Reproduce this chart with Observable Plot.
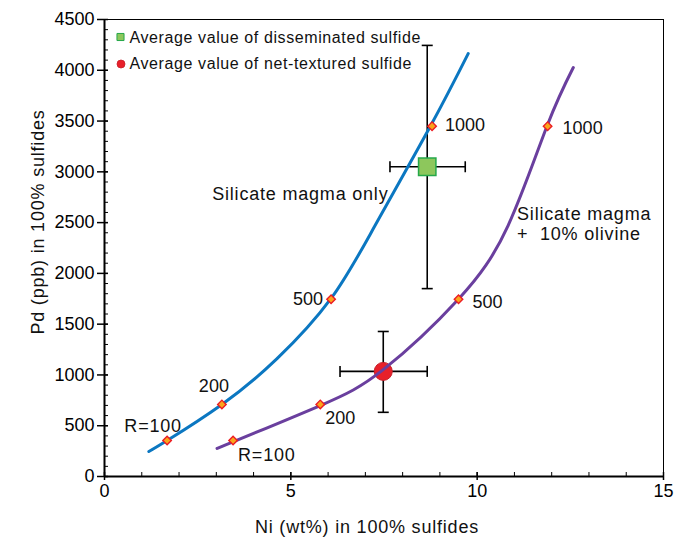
<!DOCTYPE html>
<html><head><meta charset="utf-8">
<script src="https://cdn.jsdelivr.net/npm/d3@7"></script>
<script src="https://cdn.jsdelivr.net/npm/@observablehq/plot@0.6"></script>
<style>
body{margin:0;background:#fff;}
#chart svg{display:block;}
</style>
</head><body><div id="chart"></div>
<script>
// ---- data ----
const xTicks = [0, 5, 10, 15];
const yTicks = [0, 500, 1000, 1500, 2000, 2500, 3000, 3500, 4000, 4500];
const xMinor = d3.range(0, 16, 1);
const yMinor = d3.range(0, 4501, 100);

// Silicate magma only (blue curve)
const silicateNi = [1.19, 1.68, 3.15, 4.63, 6.08, 7.26, 8.74, 9.76];
const silicatePd = [246, 354, 709, 1160, 1753, 2471, 3446, 4165];
// Silicate magma + 10% olivine (purple curve)
const olivineNi = [3.02, 5.79, 7.48, 9.49, 10.83, 11.88, 12.58];
const olivinePd = [276, 699, 1052, 1743, 2471, 3456, 4027];

// R-factor markers
const rLabels = ["R=100", "200", "500", "1000"];
const rPd = [354, 710, 1745, 3450];
const rNiSilicate = [1.68, 3.15, 6.08, 8.79];
const rNiOlivine = [3.45, 5.79, 9.50, 11.89];

// averages with error bars
const avgNames = ["Average value of disseminated sulfide", "Average value of net-textured sulfide"];
const avgNi = [8.66, 7.48];
const avgNiLo = [7.66, 6.32];
const avgNiHi = [9.68, 8.66];
const avgPd = [3050, 1035];
const avgPdLo = [1850, 632];
const avgPdHi = [4245, 1428];

// curve annotations (position read in data units)
const annotText = ["Silicate magma only", "Silicate magma\n+  10% olivine"];
const annotNi = [2.89, 11.07];
const annotPd = [2787, 2491];

const xLabel = "Ni (wt%) in 100% sulfides";
const yLabel = "Pd (ppb) in 100% sulfides";

// ---- styles ----
const FONT = "'Liberation Sans', Arial, Helvetica, sans-serif";
const BLUE = "#0b77c1", PURPLE = "#6a3f9e";
const xDomain = [0, 15], yDomain = [0, 4500];
const LS = "0.8px";

const blue = silicateNi.map((x, i) => ({x, y: silicatePd[i]}));
const purple = olivineNi.map((x, i) => ({x, y: olivinePd[i]}));
const markers = [
  ...rLabels.map((t, i) => ({x: rNiSilicate[i], y: rPd[i], t, s: "a", i})),
  ...rLabels.map((t, i) => ({x: rNiOlivine[i], y: rPd[i], t, s: "b", i}))
];
const avgs = avgNames.map((n, i) => ({n, i}));

// label offsets (pixels): [dx, dy, anchor]
const offA = [[-14, -14, "middle"], [-8, -18, "middle"], [-8, 0, "end"], [13, -1, "start"]];
const offB = [[5, 15, "start"], [5, 14, "start"], [14, 3, "start"], [15, 2, "start"]];

const capSymbol = {draw(ctx, size) { const r = Math.sqrt(size / Math.PI); ctx.moveTo(0, -r); ctx.lineTo(0, r); }};
const blank = () => "";
const plain = d3.format("d");

const labelMarks = [];
markers.forEach(m => {
  const o = (m.s === "a" ? offA : offB)[m.i];
  labelMarks.push(Plot.text([m], {x: "x", y: "y", text: "t", dx: o[0], dy: o[1], textAnchor: o[2], fontSize: 18, fill: "#111"}));
});

const chart = Plot.plot({
  width: 676, height: 538,
  marginLeft: 104, marginRight: 13, marginTop: 19, marginBottom: 62,
  style: {fontFamily: FONT, fontSize: "18px", color: "#000", background: "#fff", overflow: "visible"},
  x: {domain: xDomain},
  y: {domain: yDomain},
  marks: [
    Plot.frame({stroke: "#000", strokeWidth: 1}),
    // axes
    Plot.axisX({ticks: xTicks, tickSize: 0, tickPadding: 8, fontSize: 18, label: null, tickFormat: plain}),
    Plot.axisX({ticks: xTicks, tickSize: 8, dy: -4, tickFormat: blank, label: null, strokeWidth: 1.5}),
    Plot.axisX({ticks: xMinor, tickSize: 4, dy: -4, tickFormat: blank, label: null}),
    Plot.axisY({ticks: yTicks, tickSize: 0, tickPadding: 10, fontSize: 18, label: null, tickFormat: plain}),
    Plot.axisY({ticks: yTicks, tickSize: 11, dx: 4, tickFormat: blank, label: null, strokeWidth: 1.5}),
    Plot.axisY({ticks: yMinor, tickSize: 4, dx: 4, tickFormat: blank, label: null}),
    Plot.ruleX([xDomain[0]], {stroke: "#000", strokeWidth: 2}),
    Plot.ruleY([yDomain[0]], {stroke: "#000", strokeWidth: 2}),
    Plot.text([xLabel], {frameAnchor: "bottom", textAnchor: "middle", lineAnchor: "middle", dy: 51, dx: -17, fontSize: 18, fill: "#111"}),
    Plot.text([yLabel], {frameAnchor: "left", textAnchor: "middle", rotate: -90, dx: -66, dy: -26, fontSize: 18, fill: "#111"}),
    // error bars
    Plot.link(avgs, {x1: d => avgNiLo[d.i], x2: d => avgNiHi[d.i], y1: d => avgPd[d.i], y2: d => avgPd[d.i], stroke: "#000", strokeWidth: 1.6}),
    Plot.link(avgs, {x1: d => avgNi[d.i], x2: d => avgNi[d.i], y1: d => avgPdLo[d.i], y2: d => avgPdHi[d.i], stroke: "#000", strokeWidth: 1.6}),
    Plot.dot(avgs, {x: d => avgNiLo[d.i], y: d => avgPd[d.i], symbol: capSymbol, r: 5.5, stroke: "#000", strokeWidth: 1.6, fill: "none"}),
    Plot.dot(avgs, {x: d => avgNiHi[d.i], y: d => avgPd[d.i], symbol: capSymbol, r: 5.5, stroke: "#000", strokeWidth: 1.6, fill: "none"}),
    Plot.dot(avgs, {x: d => avgNi[d.i], y: d => avgPdLo[d.i], symbol: capSymbol, rotate: 90, r: 5.5, stroke: "#000", strokeWidth: 1.6, fill: "none"}),
    Plot.dot(avgs, {x: d => avgNi[d.i], y: d => avgPdHi[d.i], symbol: capSymbol, rotate: 90, r: 5.5, stroke: "#000", strokeWidth: 1.6, fill: "none"}),
    // averages
    Plot.dot([avgs[0]], {x: d => avgNi[d.i], y: d => avgPd[d.i], symbol: "square", r: 9.8, fill: "#8dc75c", stroke: "#25a84a", strokeWidth: 1.5}),
    Plot.dot([avgs[1]], {x: d => avgNi[d.i], y: d => avgPd[d.i], symbol: "circle", r: 9, fill: "#e8202a", stroke: "#c8202a", strokeWidth: 1}),
    // curves
    Plot.line(blue, {x: "x", y: "y", curve: "natural", stroke: BLUE, strokeWidth: 3}),
    Plot.line(purple, {x: "x", y: "y", curve: "natural", stroke: PURPLE, strokeWidth: 3}),
    // R markers
    Plot.dot(markers, {x: "x", y: "y", symbol: "square", rotate: 45, r: 3.4, fill: "#f9a51b", stroke: "#ec1c24", strokeWidth: 1.4}),
    ...labelMarks,
    // curve annotations
    Plot.text(annotText.map((t, i) => ({t, i})), {x: d => annotNi[d.i], y: d => annotPd[d.i], text: "t", textAnchor: "start", lineAnchor: "middle", lineHeight: 1.15, fontSize: 18, fill: "#111"}),
    // legend
    Plot.dot([avgNames[0]], {frameAnchor: "top-left", dx: 16, dy: 17.5, symbol: "square", r: 4, fill: "#8dc75c", stroke: "#25a84a", strokeWidth: 1}),
    Plot.dot([avgNames[1]], {frameAnchor: "top-left", dx: 16.5, dy: 44.5, symbol: "circle", r: 4, fill: "#e8202a", stroke: "#c8202a", strokeWidth: 0.8}),
    Plot.text([avgNames[0]], {frameAnchor: "top-left", dx: 25, dy: 18, textAnchor: "start", lineAnchor: "middle", fontSize: 16, fill: "#111"}),
    Plot.text([avgNames[1]], {frameAnchor: "top-left", dx: 25, dy: 44.5, textAnchor: "start", lineAnchor: "middle", fontSize: 16, fill: "#111"})
  ]
});
// widen letter spacing of word labels to match the reference typeface
chart.querySelectorAll("text").forEach(t => {
  const s = t.textContent;
  if (/[a-zA-Z]/.test(s)) t.style.letterSpacing = /Average/.test(s) ? "0.6px" : LS;
});
document.getElementById("chart").appendChild(chart);
</script>
</body></html>
